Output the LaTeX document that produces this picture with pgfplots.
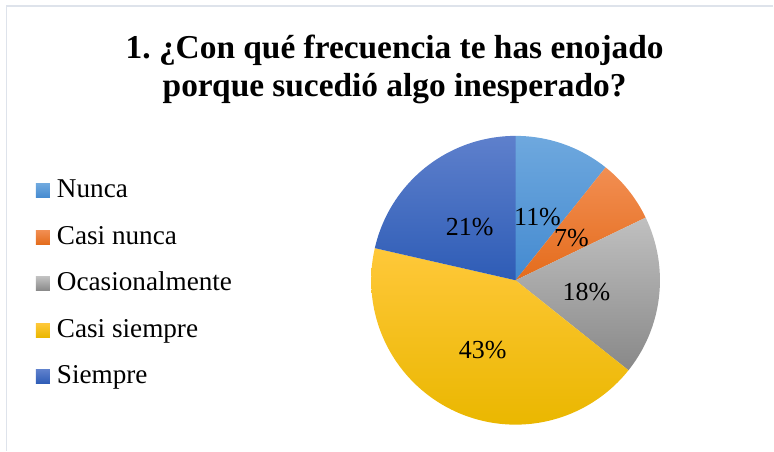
\documentclass[border=0pt]{standalone}
\usepackage{pgfplots}
\pgfplotsset{compat=1.18}
\usepackage{pgfplotstable}
\usepackage{fontspec}
\setmainfont{Liberation Serif}

\definecolor{nuncaT}{RGB}{110,168,222}
\definecolor{nuncaM}{RGB}{91,155,215}
\definecolor{nuncaB}{RGB}{68,138,208}
\definecolor{casinT}{RGB}{242,142,82}
\definecolor{casinM}{RGB}{237,125,49}
\definecolor{casinB}{RGB}{228,108,28}
\definecolor{ocaT}{RGB}{192,192,192}
\definecolor{ocaM}{RGB}{165,165,165}
\definecolor{ocaB}{RGB}{136,136,136}
\definecolor{casisT}{RGB}{255,200,58}
\definecolor{casisM}{RGB}{255,192,0}
\definecolor{casisB}{RGB}{234,183,0}
\definecolor{siemT}{RGB}{94,128,204}
\definecolor{siemM}{RGB}{68,114,196}
\definecolor{siemB}{RGB}{46,92,182}
\definecolor{frameC}{RGB}{222,227,235}

% respuestas (n = 28)
\pgfplotstableread{
cat  count
Nunca 3
CasiNunca 2
Ocasionalmente 5
CasiSiempre 12
Siempre 6
}\piedata

\begin{document}
\frenchspacing
\begin{tikzpicture}
\pgfplotstablegetelem{0}{count}\of\piedata \let\va\pgfplotsretval
\pgfplotstablegetelem{1}{count}\of\piedata \let\vb\pgfplotsretval
\pgfplotstablegetelem{2}{count}\of\piedata \let\vc\pgfplotsretval
\pgfplotstablegetelem{3}{count}\of\piedata \let\vd\pgfplotsretval
\pgfplotstablegetelem{4}{count}\of\piedata \let\ve\pgfplotsretval
\pgfmathsetmacro\tot{\va+\vb+\vc+\vd+\ve}
\pgfmathsetmacro\aA{90}
\pgfmathsetmacro\aB{\aA-360*\va/\tot}
\pgfmathsetmacro\aC{\aB-360*\vb/\tot}
\pgfmathsetmacro\aD{\aC-360*\vc/\tot}
\pgfmathsetmacro\aE{\aD-360*\vd/\tot}
\pgfmathsetmacro\aF{\aE-360*\ve/\tot}
\begin{axis}[
  hide axis, scale only axis,
  width=774bp, height=451bp,
  xmin=0, xmax=774, ymin=0, ymax=451,
  clip=false,
  legend image code/.code={\fill[#1] (0bp,-7bp) rectangle (14bp,7bp);},
  legend style={at={(axis cs:36,267)}, anchor=north west, draw=none, fill=none,
    inner sep=0pt, outer sep=0pt, row sep=32.5bp, column sep=7bp,
    font=\fontsize{27.2bp}{30bp}\selectfont,
    nodes={inner sep=0pt, text height=14bp, text depth=0bp}},
  legend cell align=left,
]
\path (axis cs:0,0) rectangle (axis cs:774,451);
\draw[frameC, line width=1.3bp] (axis cs:6.5,0) -- (axis cs:6.5,445) -- (axis cs:774,445);

\addplot[draw=none, top color=nuncaT, middle color=nuncaM, bottom color=nuncaB, domain=\aB:\aA, samples=40, variable=\t]
  ({516+144.5*cos(\t)},{170.5+144.5*sin(\t)}) -- (axis cs:516,170.5) -- cycle;
\addlegendentry{Nunca}
\addplot[draw=none, top color=casinT, middle color=casinM, bottom color=casinB, domain=\aC:\aB, samples=30, variable=\t]
  ({516+144.5*cos(\t)},{170.5+144.5*sin(\t)}) -- (axis cs:516,170.5) -- cycle;
\addlegendentry{Casi nunca}
\addplot[draw=none, top color=ocaT, middle color=ocaM, bottom color=ocaB, domain=\aD:\aC, samples=50, variable=\t]
  ({516+144.5*cos(\t)},{170.5+144.5*sin(\t)}) -- (axis cs:516,170.5) -- cycle;
\addlegendentry{Ocasionalmente}
\addplot[draw=none, top color=casisT, middle color=casisM, bottom color=casisB, domain=\aE:\aD, samples=120, variable=\t]
  ({516+144.5*cos(\t)},{170.5+144.5*sin(\t)}) -- (axis cs:516,170.5) -- cycle;
\addlegendentry{Casi siempre}
\addplot[draw=none, top color=siemT, middle color=siemM, bottom color=siemB, domain=\aF:\aE, samples=60, variable=\t]
  ({516+144.5*cos(\t)},{170.5+144.5*sin(\t)}) -- (axis cs:516,170.5) -- cycle;
\addlegendentry{Siempre}

\begin{scope}[every node/.style={font=\fontsize{33.4bp}{38bp}\selectfont\bfseries, inner sep=0pt, anchor=base}]
\node at (axis cs:395,392) {1. ¿Con qué frecuencia te has enojado};
\node at (axis cs:395,354) {porque sucedió algo inesperado?};
\end{scope}

\begin{scope}[every node/.style={font=\fontsize{26bp}{28bp}\selectfont, inner sep=0pt}]
\node at (axis cs:538,234) {11\%};
\node at (axis cs:572,213) {7\%};
\node at (axis cs:587,159) {18\%};
\node at (axis cs:483,101) {43\%};
\node at (axis cs:470,224) {21\%};
\end{scope}
\end{axis}
\end{tikzpicture}
\end{document}
